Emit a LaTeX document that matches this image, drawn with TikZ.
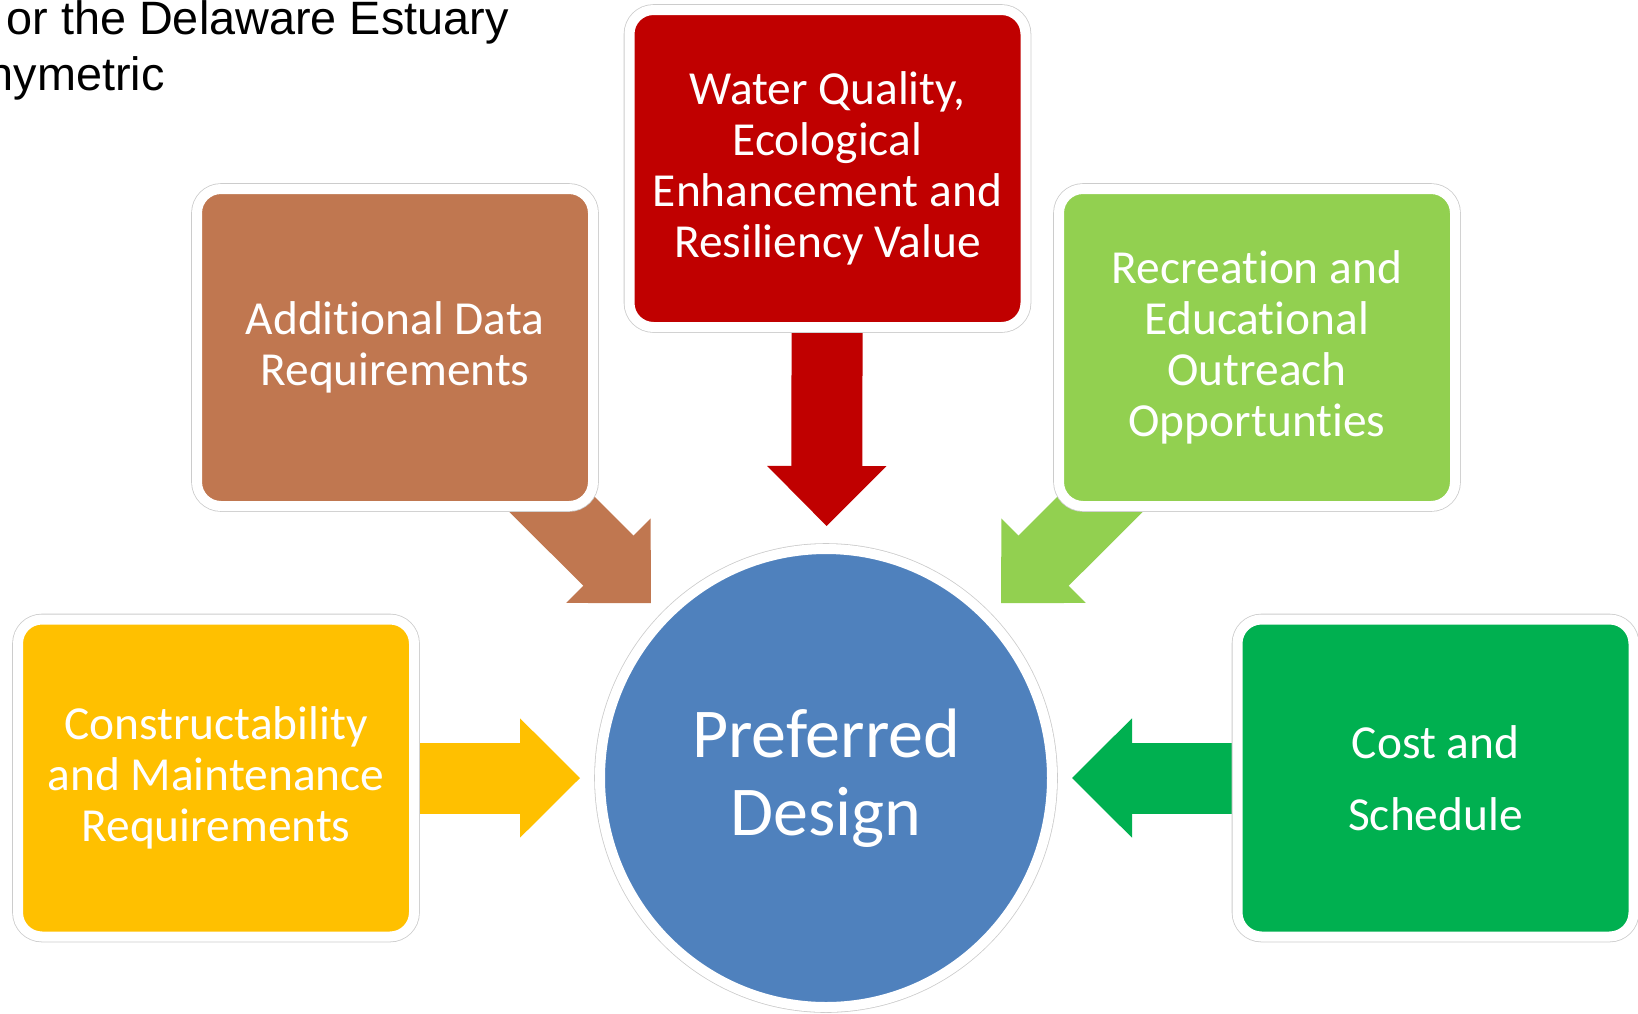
\documentclass[tikz,border=0pt]{standalone}
\usepackage{fontspec}
\setmainfont{Carlito}[Ligatures=NoCommon]
\newfontfamily\arialfont{Liberation Sans}
\usetikzlibrary{arrows.meta,shapes.geometric,backgrounds}

\definecolor{wqred}{RGB}{192,0,0}
\definecolor{databrown}{RGB}{192,119,80}
\definecolor{reclime}{RGB}{146,208,80}
\definecolor{consgold}{RGB}{255,192,0}
\definecolor{costgreen}{RGB}{0,176,80}
\definecolor{pdblue}{RGB}{79,129,189}

\tikzset{
  topic/.style={rectangle, rounded corners=12pt, fill=#1, draw=white, line width=5pt,
    preaction={draw=black!20, line width=5.8pt},
    minimum width=198pt, minimum height=158.5pt, inner sep=0pt,
    text=white, align=center, font=\fontsize{23.7}{25.5}\selectfont},
  hub/.style={ellipse, fill=pdblue, draw=white, line width=5pt,
    preaction={draw=black!20, line width=5.8pt},
    minimum width=226pt, minimum height=229pt, inner sep=0pt,
    text=white, align=center, font=\fontsize{35}{39}\selectfont},
  feed/.style={draw=#1, line width=35.5pt, shorten >=7.5pt,
    -{Triangle[width=59.5pt, length=30pt, line width=1pt]}},
  caption/.style={anchor=base east, inner sep=0pt, font=\arialfont\fontsize{23.4}{28}\selectfont}
}

\begin{document}
\begin{tikzpicture}[x=0.5pt, y=-0.5pt]
    \useasboundingbox (0,0) rectangle (1638,1013);

    % cut-off heading of the slide
    \node[caption] (heada) at (509,34) {or the Delaware Estuary};
    \node[caption] (headb) at (165,90) {hymetric};

    % centre and the five inputs
    \node[hub] (pd) at (826,778) {Preferred\\Design};
    \node[topic=wqred] (wq) at (827.5,168.5) {Water Quality,\\Ecological\\Enhancement and\\Resiliency Value};
    \node[topic=databrown] (data) at (395,347.5) {Additional Data\\Requirements};
    \node[topic=reclime] (rec) at (1257,347.5) {Recreation and\\Educational\\Outreach\\Opportunties};
    \node[topic=consgold] (cons) at (216,778) {Constructability\\and Maintenance\\Requirements};
    \node[topic=costgreen, font=\fontsize{23.7}{36}\selectfont] (cost) at (1435.5,778) {Cost and\\Schedule};

    % block arrows, behind the boxes
    \begin{pgfonlayer}{background}
        \draw[feed=wqred, shorten >=9pt] (wq.center) -- (pd);
        \draw[feed=databrown] (data.center) -- (pd);
        \draw[feed=reclime] (rec.center) -- (pd);
        \draw[feed=consgold] (cons.center) -- (pd);
        \draw[feed=costgreen] (cost.center) -- (pd);
    \end{pgfonlayer}
\end{tikzpicture}
\end{document}
